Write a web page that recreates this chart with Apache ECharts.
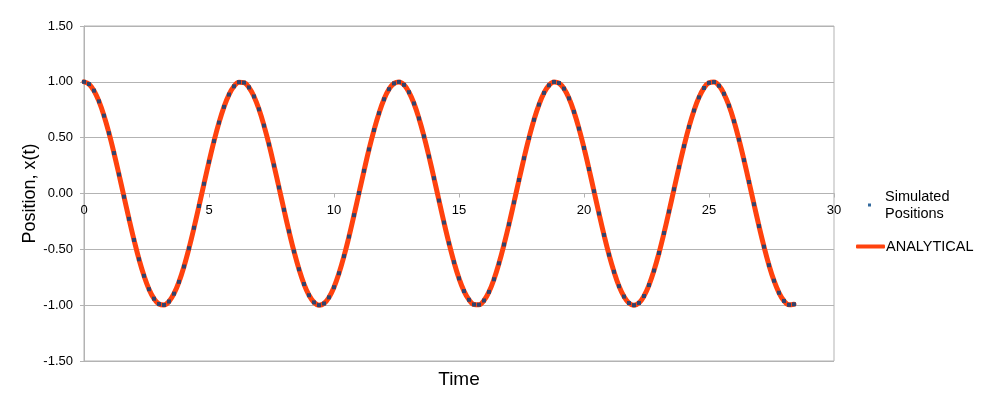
<!DOCTYPE html>
<html>
<head>
<meta charset="utf-8">
<script src="https://cdn.jsdelivr.net/npm/echarts@6/dist/echarts.min.js"></script>
<style>html,body{margin:0;padding:0;background:#fff}#chart{width:990px;height:402px}</style>
</head>
<body>
<div id="chart"></div>
<script>
var times = [0,0.2,0.4,0.6,0.8,1.0,1.2,1.4,1.6,1.8,2.0,2.2,2.4,2.6,2.8,3.0,3.2,3.4,3.6,3.8,
4.0,4.2,4.4,4.6,4.8,5.0,5.2,5.4,5.6,5.8,6.0,6.2,6.4,6.6,6.8,7.0,7.2,7.4,7.6,7.8,
8.0,8.2,8.4,8.6,8.8,9.0,9.2,9.4,9.6,9.8,10.0,10.2,10.4,10.6,10.8,11.0,11.2,11.4,11.6,11.8,
12.0,12.2,12.4,12.6,12.8,13.0,13.2,13.4,13.6,13.8,14.0,14.2,14.4,14.6,14.8,15.0,15.2,15.4,15.6,15.8,
16.0,16.2,16.4,16.6,16.8,17.0,17.2,17.4,17.6,17.8,18.0,18.2,18.4,18.6,18.8,19.0,19.2,19.4,19.6,19.8,
20.0,20.2,20.4,20.6,20.8,21.0,21.2,21.4,21.6,21.8,22.0,22.2,22.4,22.6,22.8,23.0,23.2,23.4,23.6,23.8,
24.0,24.2,24.4,24.6,24.8,25.0,25.2,25.4,25.6,25.8,26.0,26.2,26.4,26.6,26.8,27.0,27.2,27.4,27.6,27.8,
28.0,28.2,28.4];

var simulated = [1.000,0.980,0.921,0.825,0.697,0.540,0.362,0.170,-0.029,-0.227,
-0.416,-0.589,-0.737,-0.857,-0.942,-0.990,-0.998,-0.967,-0.897,-0.791,
-0.654,-0.490,-0.307,-0.112,0.087,0.284,0.469,0.635,0.776,0.886,
0.960,0.997,0.993,0.950,0.869,0.754,0.608,0.439,0.251,0.054,
-0.146,-0.339,-0.519,-0.678,-0.811,-0.911,-0.975,-1.000,-0.985,-0.930,
-0.839,-0.714,-0.561,-0.386,-0.194,0.004,0.203,0.395,0.568,0.719,
0.844,0.934,0.986,0.999,0.973,0.907,0.806,0.672,0.512,0.331,
0.137,-0.063,-0.260,-0.446,-0.615,-0.760,-0.874,-0.952,-0.994,-0.996,
-0.958,-0.881,-0.768,-0.625,-0.457,-0.275,-0.079,0.121,0.316,0.498,
0.660,0.796,0.901,0.969,0.999,0.989,0.939,0.852,0.731,0.581,
0.408,0.219,0.020,-0.179,-0.371,-0.548,-0.701,-0.830,-0.923,-0.981,
-1.000,-0.980,-0.918,-0.820,-0.690,-0.533,-0.354,-0.161,0.038,0.236,
0.424,0.596,0.743,0.861,0.945,0.991,0.998,0.965,0.893,0.786,
0.647,0.482,0.299,0.103,-0.096,-0.292,-0.476,-0.642,-0.781,-0.889,
-0.962,-0.997,-0.992];

var analytical = simulated;

var xTicks = {min: 0, max: 30, interval: 5};
var yTicks = {min: -1.5, max: 1.5, interval: 0.5};

var simPairs = times.map(function (t, i) { return [t, simulated[i]]; });
var anaPairs = times.map(function (t, i) { return [t, analytical[i]]; });

var FONT = '"Liberation Sans", Arial, sans-serif';
var GRID_TOP = 26, GRID_BOTTOM = 41, H = 402;
var plotH = H - GRID_TOP - GRID_BOTTOM;
var zeroOffset = -plotH * (0 - yTicks.min) / (yTicks.max - yTicks.min);

var chart = echarts.init(document.getElementById('chart'));
chart.setOption({
  animation: false,
  backgroundColor: '#ffffff',
  textStyle: {fontFamily: FONT, color: '#000'},
  grid: {left: 84, right: 156, top: GRID_TOP, bottom: GRID_BOTTOM, show: true, borderColor: '#b3b3b3', borderWidth: 1},
  xAxis: {
    type: 'value', min: xTicks.min, max: xTicks.max, interval: xTicks.interval,
    position: 'bottom', offset: zeroOffset,
    axisLine: {onZero: false, lineStyle: {color: '#b3b3b3', width: 1}},
    axisTick: {show: true, length: 4, lineStyle: {color: '#b3b3b3'}},
    axisLabel: {color: '#000', fontSize: 13, fontFamily: FONT, margin: 10},
    splitLine: {show: false}
  },
  yAxis: {
    type: 'value', min: yTicks.min, max: yTicks.max, interval: yTicks.interval,
    name: 'Position, x(t)', nameLocation: 'middle', nameGap: 45, nameRotate: 90,
    nameMoveOverlap: false,
    nameTextStyle: {fontSize: 18, color: '#000', fontFamily: FONT},
    axisLine: {show: true, lineStyle: {color: '#b3b3b3', width: 1}},
    axisTick: {show: true, length: 4, lineStyle: {color: '#b3b3b3'}},
    axisLabel: {color: '#000', fontSize: 13, fontFamily: FONT, margin: 11,
      formatter: function (v) { return v.toFixed(2); }},
    splitLine: {show: true, lineStyle: {color: '#b3b3b3', width: 1}}
  },
  legend: [
    {
      data: ['Simulated Positions'], orient: 'vertical', left: 868, top: 188, padding: 0,
      itemWidth: 3, itemHeight: 3, itemGap: 0, icon: 'rect',
      formatter: function () { return 'Simulated\nPositions'; },
      textStyle: {fontSize: 14.5, color: '#000', fontFamily: FONT, lineHeight: 17, padding: [0, 0, 0, 9]}
    },
    {
      data: ['ANALYTICAL'], orient: 'vertical', left: 856, top: 239, padding: 0,
      itemWidth: 29, itemHeight: 4, icon: 'roundRect',
      itemStyle: {color: '#ff420e'},
      textStyle: {fontSize: 14.5, color: '#000', fontFamily: FONT, padding: [0, 0, 0, -4]}
    }
  ],
  graphic: [
    {type: 'text', x: 459, y: 380, style: {text: 'Time', fontSize: 19, fontFamily: FONT, fill: '#000', align: 'center', verticalAlign: 'middle'}}
  ],
  series: [
    {
      name: 'ANALYTICAL', type: 'line', data: anaPairs, smooth: 0.4,
      showSymbol: false, symbol: 'none',
      lineStyle: {color: '#ff420e', width: 5, cap: 'round', join: 'round'},
      itemStyle: {color: '#ff420e'}, z: 2
    },
    {
      name: 'Simulated Positions', type: 'scatter', data: simPairs,
      symbol: 'rect', symbolSize: 4,
      itemStyle: {color: '#004586'}, z: 3
    }
  ]
});
</script>
</body>
</html>
